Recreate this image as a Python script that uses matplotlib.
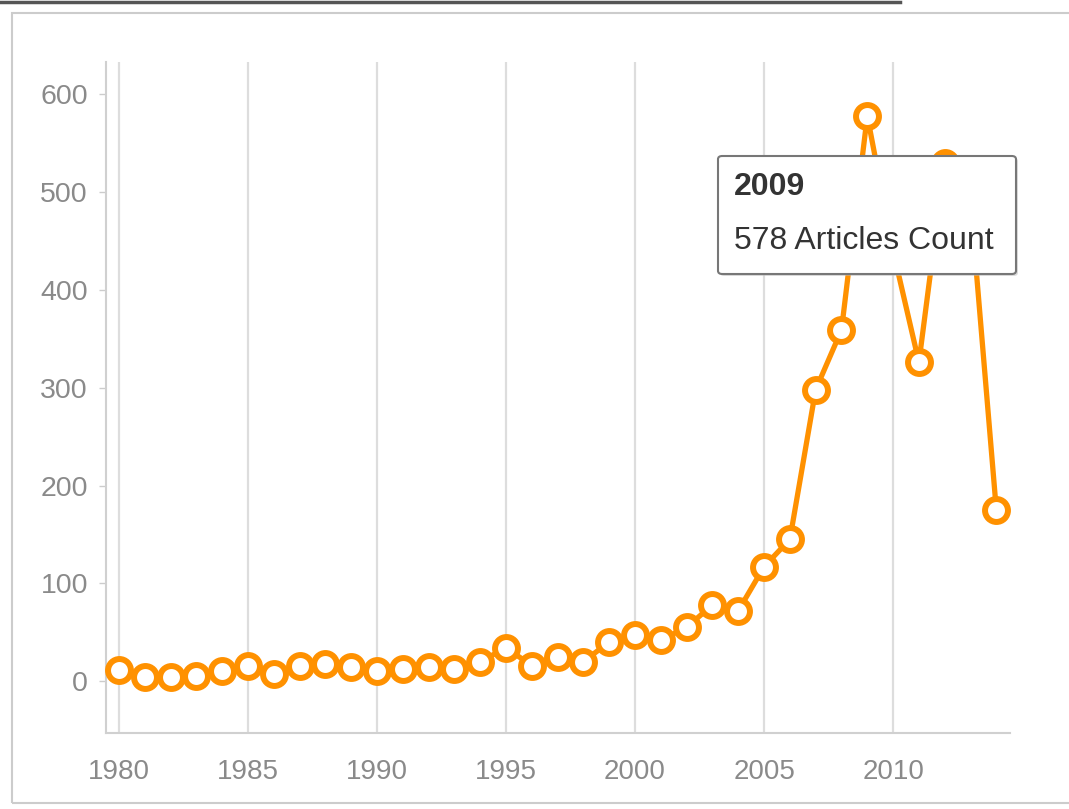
import matplotlib.pyplot as plt
from matplotlib.patches import FancyBboxPatch, Rectangle
from matplotlib.lines import Line2D

plt.rcParams['font.family'] = ['Liberation Sans', 'DejaVu Sans']

years = list(range(1980, 2015))
counts = [11, 4, 4, 5, 10, 16, 7, 16, 18, 14,
          10, 12, 14, 12, 20, 34, 16, 25, 20, 40,
          47, 42, 55, 78, 72, 117, 145, 298, 359, 578,
          440, 326, 530, 490, 175]
tooltip_year = '2009'
tooltip_text = '578 Articles Count'

W, H = 1069, 809
fig = plt.figure(figsize=(W / 100, H / 100), dpi=100)

# page frame
fig.add_artist(Line2D([0, 900 / W], [1 - 1.5 / H, 1 - 1.5 / H], color='#555555', lw=2.5))
fig.add_artist(Rectangle((12 / W, 6 / H), 1.2, 1 - 19 / H, transform=fig.transFigure,
                         fill=False, edgecolor='#cccccc', lw=1.5))

ax = fig.add_axes([106 / W, (H - 733) / H, (1010 - 106) / W, (733 - 62) / H])
ax.plot(years, counts, color='#ff9100', lw=3.8, marker='o', ms=16.5,
        mfc='white', mec='#ff9100', mew=4.3, zorder=3, clip_on=False)

ax.set_xlim(1979.5, 2014.53)
ax.set_ylim(-53, 633)
ax.set_xticks(range(1980, 2015, 5))
ax.set_yticks(range(0, 601, 100))
ax.grid(axis='x', color='#dddddd', lw=1.6)
ax.tick_params(axis='x', length=0, pad=19, labelsize=20, labelcolor='#8a8a8a')
ax.tick_params(axis='y', length=5, width=1, color='#cccccc', pad=8,
               labelsize=20.5, labelcolor='#8a8a8a')
for s in ['top', 'right']:
    ax.spines[s].set_visible(False)
for s in ['left', 'bottom']:
    ax.spines[s].set_color('#d0d0d0')
    ax.spines[s].set_linewidth(1.5)

# tooltip
x0, y0, x1, y1 = 718, 156, 1016, 274
shadow = FancyBboxPatch(((x0 + 2) / W, 1 - (y1 + 2) / H), (x1 - x0) / W, (y1 - y0) / H,
                        boxstyle='round,pad=0,rounding_size=0.004', transform=fig.transFigure,
                        facecolor='#bbbbbb', edgecolor='none', alpha=0.5, zorder=9)
fig.add_artist(shadow)
box = FancyBboxPatch((x0 / W, 1 - y1 / H), (x1 - x0) / W, (y1 - y0) / H,
                     boxstyle='round,pad=0,rounding_size=0.004', transform=fig.transFigure,
                     facecolor='white', edgecolor='#777777', lw=1.5, zorder=10)
fig.add_artist(box)
fig.text(734 / W, 1 - 187 / H, tooltip_year, fontsize=23, fontweight='bold',
         color='#333333', va='center', ha='left', zorder=11)
fig.text(734 / W, 1 - 241 / H, tooltip_text, fontsize=23,
         color='#333333', va='center', ha='left', zorder=11)

fig.savefig('out.png', dpi=100)
